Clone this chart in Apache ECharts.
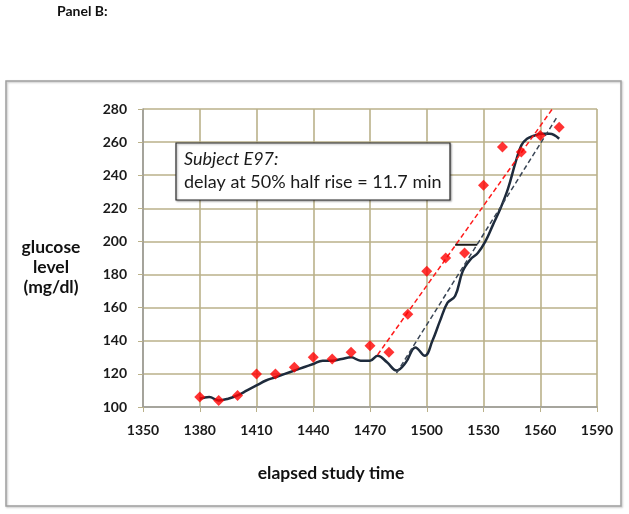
<!DOCTYPE html>
<html>
<head>
<meta charset="utf-8">
<script src="https://cdn.jsdelivr.net/npm/echarts@6/dist/echarts.min.js"></script>
<style>html,body{margin:0;padding:0;background:#fff;}#c{width:629px;height:514px;}</style>
</head>
<body>
<div id="c"></div>
<script>
// Fingerstick (reference) glucose readings
var fsTime = [1380,1390,1400,1410,1420,1430,1440,1450,1460,1470,1480,1490,1500,1510,1520,1530,1540,1550,1560,1570];
var fsValue = [106,104,107,120,120,124,130,129,133,137,133,156,182,190,193,234,257,254,264,269];

// Continuous sensor trace
var cgmTime = [1380,1385,1390,1395,1400,1405,1410,1415,1420,1425,1430,1435,1440,1445,1450,1455,1460,1465,1470,1474,1479,1484,1489,1494,1499,1503,1507,1511,1515,1519,1523,1527,1531,1535,1539,1543,1547,1550,1553,1557,1561,1565,1570];
var cgmValue = [105,106,104,105,107,110,113,116,118,120,122,124,126,128,128,129,130,128,128,131,127,122,127,136,131,140,152,163,167,182,189,193,200,210,220,232,248,258,262,264,265,265,262];

// Fitted rise lines
var redFitTime = [1474,1567];
var redFitValue = [131.5,281];
var blackFitTime = [1484,1568.5];
var blackFitValue = [120.5,274.5];

// 50% half-rise delay marker
var delayTime = [1515,1526.7];
var delayValue = [198,198];

var xTicks = {min:1350, max:1590, interval:30};
var yTicks = {min:100, max:280, interval:20};

function pairs(xs, ys){ return xs.map(function(x,i){ return [x, ys[i]]; }); }

var chart = echarts.init(document.getElementById('c'), null, {renderer:'canvas'});
var gridColor = '#bab18a';
var FF = 'Lato, "Open Sans", sans-serif';
var labelFont = {color:'#1a1a1a', fontWeight:'bold', fontSize:14, fontFamily:FF, formatter:function(v){ return String(v); }};

chart.setOption({
  animation:false,
  backgroundColor:'#fff',
  grid:{left:143, right:32, top:109, bottom:107},
  xAxis:{
    type:'value', min:xTicks.min, max:xTicks.max, interval:xTicks.interval,
    axisLine:{show:true, lineStyle:{color:'#9a9a9a', width:1.5}},
    axisTick:{show:true, length:5, lineStyle:{color:gridColor}},
    splitLine:{show:true, lineStyle:{color:gridColor, width:1.6}},
    axisLabel:Object.assign({margin:16}, labelFont)
  },
  yAxis:{
    type:'value', min:yTicks.min, max:yTicks.max, interval:yTicks.interval,
    axisLine:{show:true, lineStyle:{color:'#9a9a9a', width:1.5}},
    axisTick:{show:true, length:5, lineStyle:{color:gridColor}},
    splitLine:{show:true, lineStyle:{color:gridColor, width:1.6}},
    axisLabel:Object.assign({margin:16}, labelFont)
  },
  series:[
    {
      type:'line', data:pairs(cgmTime, cgmValue), smooth:0.4, showSymbol:false,
      lineStyle:{color:'#1e2b3c', width:2.5}, z:3
    },
    {
      type:'line', data:pairs(redFitTime, redFitValue), showSymbol:false,
      lineStyle:{color:'#ff1a1a', width:1.5, type:[5,3]}, z:4
    },
    {
      type:'line', data:pairs(blackFitTime, blackFitValue), showSymbol:false,
      lineStyle:{color:'#3a4656', width:1.5, type:[5,3]}, z:4
    },
    {
      type:'line', data:pairs(delayTime, delayValue), showSymbol:false,
      lineStyle:{color:'#1a1a1a', width:2}, z:4
    },
    {
      type:'scatter', data:pairs(fsTime, fsValue), symbol:'diamond', symbolSize:11,
      itemStyle:{color:'#ff0000'}, z:5
    }
  ],
  graphic:[
    {type:'rect', shape:{x:6, y:81, width:615, height:425}, style:{fill:'none', stroke:'#a0a0a0', lineWidth:1.5, shadowBlur:2, shadowColor:'rgba(0,0,0,0.25)', shadowOffsetX:1, shadowOffsetY:1}, z:-1, silent:true},
    {type:'text', x:57, y:11, style:{text:'Panel B:', verticalAlign:'middle', fontSize:14, fontWeight:'bold', fontFamily:FF, fill:'#111'}},
    {type:'rect', shape:{x:176, y:143, width:274, height:57}, style:{fill:'#fff', stroke:'#2a2a2a', lineWidth:1.2, shadowBlur:2, shadowColor:'rgba(0,0,0,0.35)', shadowOffsetX:1, shadowOffsetY:1}, z:10},
    {type:'text', x:184, y:159, z:11, style:{text:'Subject E97:', verticalAlign:'middle', fontSize:18, fontStyle:'italic', fontFamily:FF, fill:'#1a1a1a'}},
    {type:'text', x:184, y:182, z:11, style:{text:'delay at 50% half rise = 11.7 min', verticalAlign:'middle', fontSize:18, fontFamily:FF, fill:'#1a1a1a'}},
    {type:'text', x:51, y:267, z:11, style:{text:'glucose\nlevel\n(mg/dl)', align:'center', verticalAlign:'middle', lineHeight:20, fontSize:17.5, fontWeight:'bold', fontFamily:FF, fill:'#111'}},
    {type:'text', x:331, y:473, z:11, style:{text:'elapsed study time', align:'center', verticalAlign:'middle', fontSize:17.5, fontWeight:'bold', fontFamily:FF, fill:'#111'}}
  ]
});
</script>
</body>
</html>
